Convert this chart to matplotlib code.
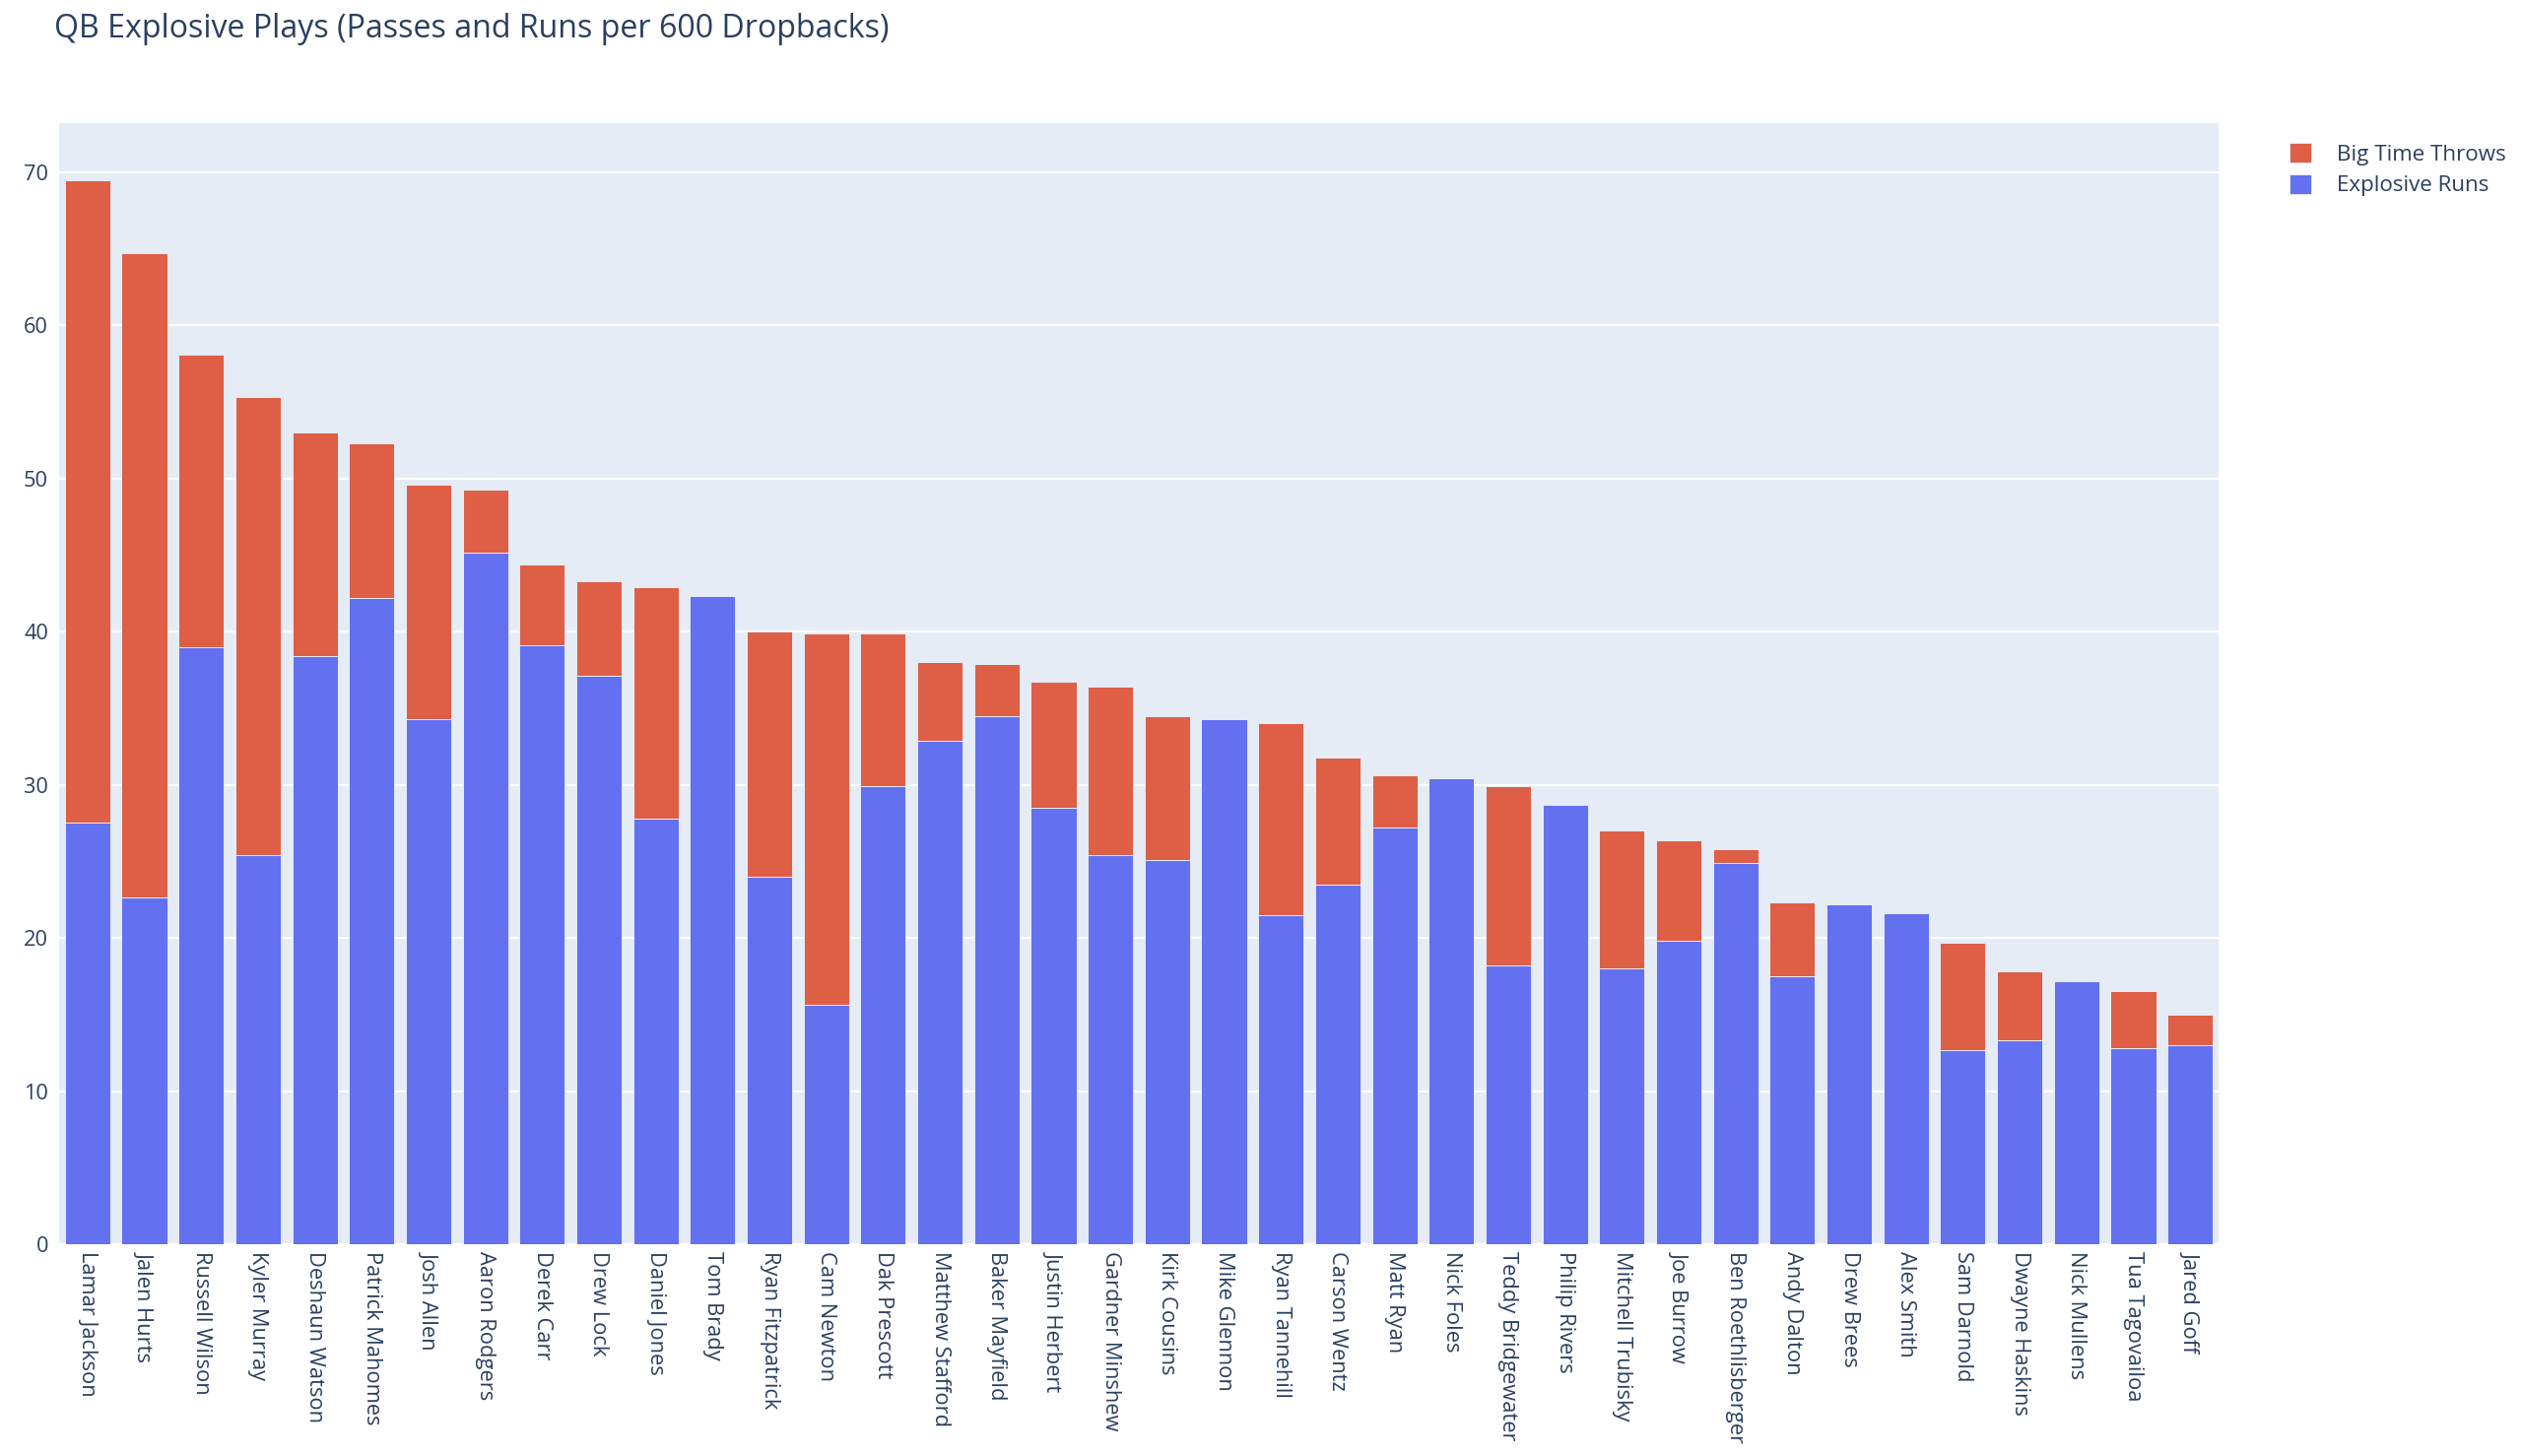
import matplotlib
matplotlib.use("Agg")
import matplotlib.pyplot as plt
import numpy as np

players = ["Lamar Jackson", "Jalen Hurts", "Russell Wilson", "Kyler Murray", "Deshaun Watson",
           "Patrick Mahomes", "Josh Allen", "Aaron Rodgers", "Derek Carr", "Drew Lock",
           "Daniel Jones", "Tom Brady", "Ryan Fitzpatrick", "Cam Newton", "Dak Prescott",
           "Matthew Stafford", "Baker Mayfield", "Justin Herbert", "Gardner Minshew", "Kirk Cousins",
           "Mike Glennon", "Ryan Tannehill", "Carson Wentz", "Matt Ryan", "Nick Foles",
           "Teddy Bridgewater", "Philip Rivers", "Mitchell Trubisky", "Joe Burrow", "Ben Roethlisberger",
           "Andy Dalton", "Drew Brees", "Alex Smith", "Sam Darnold", "Dwayne Haskins",
           "Nick Mullens", "Tua Tagovailoa", "Jared Goff"]

explosive_runs = [27.5, 22.65, 39.0, 25.4, 38.4, 42.2, 34.3, 45.15, 39.1, 37.1,
                  27.8, 42.3, 24.0, 15.66, 29.9, 32.9, 34.5, 28.5, 25.4, 25.1,
                  34.3, 21.5, 23.5, 27.2, 30.4, 18.2, 28.7, 18.0, 19.8, 24.9,
                  17.5, 22.2, 21.6, 12.65, 13.3, 17.2, 12.8, 13.0]

totals = [69.5, 64.7, 58.1, 55.3, 53.0, 52.3, 49.6, 49.3, 44.4, 43.3,
          42.9, 42.3, 40.0, 39.9, 39.9, 38.0, 37.9, 36.7, 36.4, 34.5,
          34.3, 34.0, 31.8, 30.6, 30.4, 29.9, 28.7, 27.0, 26.4, 25.8,
          22.3, 22.2, 21.6, 19.7, 17.8, 17.2, 16.5, 15.0]

big_time_throws = [round(t - e, 2) for t, e in zip(totals, explosive_runs)]

title_text = "QB Explosive Plays (Passes and Runs per 600 Dropbacks)"
legend_labels = ["Big Time Throws", "Explosive Runs"]

RED = "#DE5F46"
BLUE = "#6370F0"
BG = "#E5ECF6"
TXT = "#2a3f5f"
FONT = ['Open Sans', 'DejaVu Sans']

plt.rcParams['font.family'] = FONT

W, H = 2560, 1478
fig = plt.figure(figsize=(W / 100, H / 100), dpi=100)
renderer = fig.canvas.get_renderer()


def fit_size(text, target_px, base=16.0):
    t = fig.text(0, 0, text, fontsize=base)
    w = t.get_window_extent(renderer=renderer).width
    t.remove()
    return base * target_px / w


tick_fs = fit_size("Teddy Bridgewater", 193)
legend_fs = fit_size("Big Time Throws", 172)
title_fs = fit_size(title_text, 848)
ytick_fs = fit_size("70", 25)

left, right, top, bottom = 60, 2252, 125, 1263
ax = fig.add_axes([left / W, 1 - bottom / H, (right - left) / W, (bottom - top) / H])
ax.set_facecolor(BG)

x = np.arange(len(players))
b1 = ax.bar(x, explosive_runs, width=0.8, color=BLUE, edgecolor=BG, linewidth=0.7,
            label="Explosive Runs", zorder=3)
b2 = ax.bar(x, big_time_throws, width=0.8, bottom=explosive_runs, color=RED, edgecolor=BG,
            linewidth=0.7, label="Big Time Throws", zorder=3)

ax.set_xlim(-0.5, len(players) - 0.5)
ax.set_ylim(0, 73.2)
ax.set_yticks(range(0, 71, 10))
ax.grid(axis='y', color='white', linewidth=1.6, zorder=0)
ax.set_axisbelow(True)
for s in ax.spines.values():
    s.set_visible(False)
ax.tick_params(axis='y', length=0, labelsize=ytick_fs, colors=TXT, pad=8)
ax.set_xticks(x)
ax.set_xticklabels(players, rotation=-90, ha='center', va='top', fontsize=tick_fs, color=TXT)
ax.tick_params(axis='x', length=0, pad=5)

fig.text(55 / W, 1 - 30 / H, title_text, fontsize=title_fs, color=TXT, ha='left', va='center')

leg = fig.legend(handles=[b2, b1], labels=legend_labels,
                 loc='upper left', bbox_to_anchor=(2315 / W, 1 - 136 / H), frameon=False,
                 fontsize=legend_fs, handlelength=1.0, handleheight=1.0, handletextpad=1.15,
                 labelspacing=0.4, borderaxespad=0)
for t in leg.get_texts():
    t.set_color(TXT)

fig.savefig("out.png", dpi=100, facecolor='white')
